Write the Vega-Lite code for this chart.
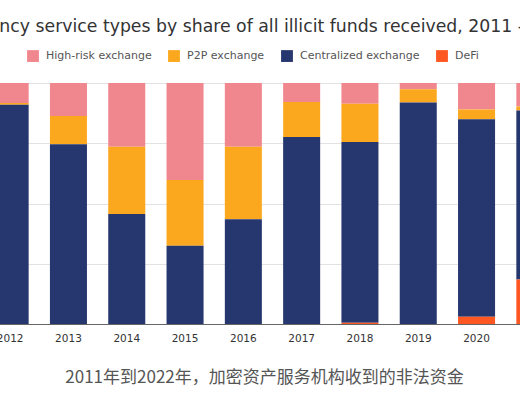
{
  "$schema": "https://vega.github.io/schema/vega-lite/v6.json",
  "width": 520,
  "height": 241,
  "autosize": "none",
  "padding": {"left": 0, "right": 0, "top": 83, "bottom": 76},
  "background": "white",
  "config": {
    "font": "DejaVu Sans",
    "view": {"stroke": null}
  },
  "title": {
    "text": "Cryptocurrency service types by share of all illicit funds received, 2011 -\u20032022",
    "anchor": "start",
    "frame": "group",
    "dx": -103,
    "fontSize": 17.3,
    "fontWeight": "normal",
    "color": "#333333",
    "offset": 15
  },
  "data": {
    "values": [
      {"year": "2012", "high_risk": 8.3, "p2p": 0.7, "centralized": 91.0, "defi": 0},
      {"year": "2013", "high_risk": 13.7, "p2p": 11.7, "centralized": 74.6, "defi": 0},
      {"year": "2014", "high_risk": 26.5, "p2p": 27.9, "centralized": 45.6, "defi": 0},
      {"year": "2015", "high_risk": 40.3, "p2p": 27.2, "centralized": 32.5, "defi": 0},
      {"year": "2016", "high_risk": 26.5, "p2p": 30.0, "centralized": 43.5, "defi": 0},
      {"year": "2017", "high_risk": 7.9, "p2p": 14.5, "centralized": 77.6, "defi": 0},
      {"year": "2018", "high_risk": 8.6, "p2p": 15.9, "centralized": 75.0, "defi": 0.5},
      {"year": "2019", "high_risk": 2.6, "p2p": 5.5, "centralized": 91.9, "defi": 0},
      {"year": "2020", "high_risk": 11.0, "p2p": 4.0, "centralized": 82.0, "defi": 3.0},
      {"year": "2021", "high_risk": 9.7, "p2p": 1.7, "centralized": 70.1, "defi": 18.5}
    ]
  },
  "transform": [
    {"fold": ["high_risk", "p2p", "centralized", "defi"], "as": ["key", "share"]},
    {
      "calculate": "datum.key === 'high_risk' ? 'High-risk exchange' : datum.key === 'p2p' ? 'P2P exchange' : datum.key === 'centralized' ? 'Centralized exchange' : 'DeFi'",
      "as": "type"
    },
    {
      "calculate": "indexof(['defi', 'centralized', 'p2p', 'high_risk'], datum.key)",
      "as": "stack_rank"
    }
  ],
  "mark": {"type": "bar", "clip": true},
  "encoding": {
    "x": {
      "field": "year",
      "type": "nominal",
      "scale": {"range": [-19, 564], "paddingInner": 0.365, "paddingOuter": 0.1825},
      "axis": {
        "labelAngle": 0,
        "labelFontSize": 10.5,
        "labelColor": "#333333",
        "labelPadding": 9,
        "ticks": false,
        "domainColor": "#666666",
        "title": "2011年到2022年，加密资产服务机构收到的非法资金",
        "titleFont": "Noto Sans CJK SC",
        "titleFontSize": 17,
        "titleFontWeight": "normal",
        "titleColor": "#555555",
        "titlePadding": 26,
        "titleX": 264
      }
    },
    "y": {
      "field": "share",
      "type": "quantitative",
      "stack": "normalize",
      "scale": {"domain": [0, 1]},
      "axis": {
        "title": null,
        "labels": false,
        "ticks": false,
        "domain": false,
        "values": [0, 0.25, 0.5, 0.75, 1],
        "gridColor": "#e2e2e2"
      }
    },
    "order": {"field": "stack_rank", "type": "quantitative", "sort": "ascending"},
    "color": {
      "field": "type",
      "type": "nominal",
      "scale": {
        "domain": ["High-risk exchange", "P2P exchange", "Centralized exchange", "DeFi"],
        "range": ["#F0868E", "#FBA81E", "#26376F", "#FF5722"]
      },
      "legend": {
        "title": null,
        "orient": "none",
        "direction": "horizontal",
        "legendX": 27,
        "legendY": -33,
        "symbolType": "square",
        "symbolSize": 140,
        "symbolStrokeWidth": 0,
        "labelFontSize": 11,
        "labelColor": "#555555",
        "labelOffset": 7,
        "columnPadding": 16
      }
    }
  }
}
